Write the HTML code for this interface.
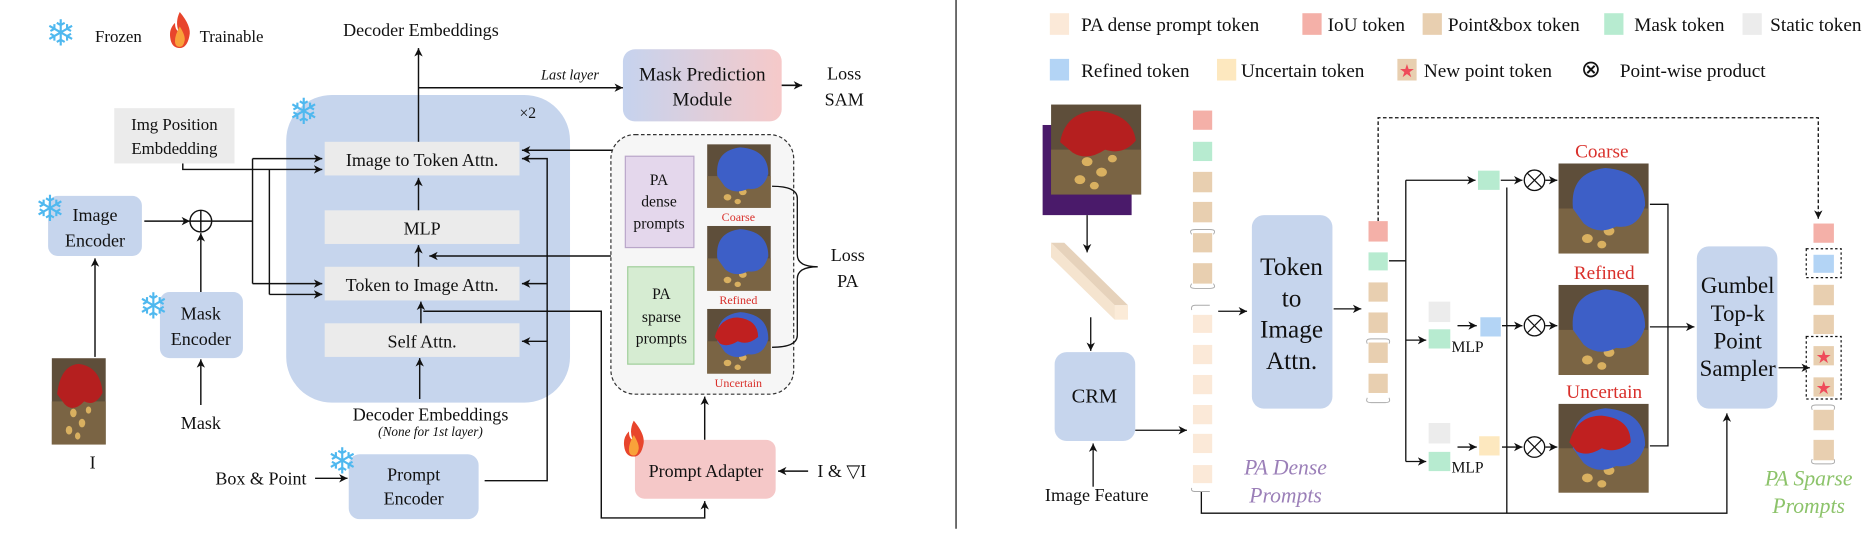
<!DOCTYPE html>
<html><head><meta charset="utf-8"><style>
html,body{margin:0;padding:0;background:#fff;}
svg{display:block;}
text{font-family:"Liberation Serif",serif;fill:#111;}
</style></head><body>
<svg width="1876" height="542" viewBox="0 0 1560 451" preserveAspectRatio="none" xmlns="http://www.w3.org/2000/svg">
<defs>
<marker id="ah" markerWidth="8" markerHeight="8" refX="7" refY="4" orient="auto" markerUnits="userSpaceOnUse">
<path d="M0,0.5 L7,4 L0,7.5 L2,4 Z" fill="#111"/></marker>
<linearGradient id="mpg" x1="0" x2="1"><stop offset="0" stop-color="#c6d3ee"/><stop offset="1" stop-color="#f6c9c9"/></linearGradient>
<symbol id="leo" viewBox="0 0 50 60" preserveAspectRatio="none">
<rect width="50" height="60" fill="#5e4e3a"/>
<rect x="0" y="30" width="50" height="30" fill="#7a6444"/>
<circle cx="20" cy="38" r="3" fill="#d9b060"/><circle cx="28" cy="45" r="3" fill="#d9b060"/><circle cx="16" cy="50" r="3" fill="#d9b060"/><circle cx="34" cy="36" r="2.5" fill="#d9b060"/><circle cx="24" cy="54" r="2.5" fill="#d9b060"/>
</symbol>
<symbol id="red" viewBox="0 0 50 60" preserveAspectRatio="none">
<use href="#leo" width="50" height="60"/>
<path d="M5,25 Q8,5 25,4 Q45,6 47,24 Q40,34 30,30 Q20,38 12,32 Z" fill="#b51f1f"/>
</symbol>
<symbol id="blue" viewBox="0 0 50 60" preserveAspectRatio="none">
<use href="#leo" width="50" height="60"/>
<path d="M8,30 Q6,6 26,3 Q48,5 48,28 Q44,44 32,42 Q22,48 14,40 Z" fill="#3d5fc7"/>
</symbol>
<symbol id="unc" viewBox="0 0 50 60" preserveAspectRatio="none">
<use href="#leo" width="50" height="60"/>
<path d="M8,30 Q6,6 26,3 Q48,5 48,28 Q44,44 32,42 Q22,48 14,40 Z" fill="#3d5fc7"/>
<path d="M6,26 Q10,8 24,8 Q40,10 40,26 Q32,34 24,30 Q16,36 10,32 Z" fill="#c02020"/>
</symbol>
<symbol id="flame" viewBox="0 0 20 30"><path d="M10,0 Q20,12 18,20 Q16,30 10,30 Q3,30 2,21 Q1,14 6,9 Q6,15 9,16 Q6,8 10,0Z" fill="#e8452c"/><path d="M10,12 Q15,20 14,24 Q13,29 10,29 Q6,29 6,24 Q6,19 10,12Z" fill="#f9a13a"/></symbol>
</defs>

<!-- ===== LEFT PANEL ===== -->
<text x="38" y="38" font-size="30" style="fill:#4fb8ef">❄</text>
<text x="79" y="35" font-size="14">Frozen</text>
<use href="#flame" x="139" y="10" width="21" height="30"/>
<text x="166" y="35" font-size="14">Trainable</text>

<text x="350" y="30" font-size="15" text-anchor="middle">Decoder Embeddings</text>
<text x="474" y="66" font-size="12" font-style="italic" text-anchor="middle">Last layer</text>
<rect x="518" y="41" width="132" height="60" rx="10" fill="url(#mpg)"/>
<text x="584" y="67" font-size="16" text-anchor="middle">Mask Prediction</text>
<text x="584" y="88" font-size="16" text-anchor="middle">Module</text>
<line x1="650" y1="71" x2="667" y2="71" stroke="#111" stroke-width="1.3" marker-end="url(#ah)"/>
<text x="702" y="66" font-size="15" text-anchor="middle">Loss</text>
<text x="702" y="88" font-size="15" text-anchor="middle">SAM</text>

<rect x="238" y="79" width="236" height="256" rx="38" fill="#c6d5ed"/>
<text x="240" y="103" font-size="30" style="fill:#4fb8ef">❄</text>
<text x="432" y="98" font-size="13">×2</text>

<rect x="95" y="90" width="100" height="46" fill="#ebebeb"/>
<text x="145" y="108" font-size="14" text-anchor="middle">Img Position</text>
<text x="145" y="128" font-size="14" text-anchor="middle">Embdedding</text>

<rect x="270" y="118" width="162" height="28" fill="#ebebeb"/>
<text x="351" y="138" font-size="15" text-anchor="middle">Image to Token Attn.</text>
<rect x="270" y="175" width="162" height="28" fill="#ebebeb"/>
<text x="351" y="195" font-size="15" text-anchor="middle">MLP</text>
<rect x="270" y="222" width="162" height="28" fill="#ebebeb"/>
<text x="351" y="242" font-size="15" text-anchor="middle">Token to Image Attn.</text>
<rect x="270" y="269" width="162" height="28" fill="#ebebeb"/>
<text x="351" y="289" font-size="15" text-anchor="middle">Self Attn.</text>

<g stroke="#111" stroke-width="1.2" fill="none">
<line x1="348" y1="118" x2="348" y2="40" marker-end="url(#ah)"/>
<polyline points="348,73 518,73" marker-end="url(#ah)"/>
<line x1="348" y1="175" x2="348" y2="148" marker-end="url(#ah)"/>
<line x1="348" y1="222" x2="348" y2="204" marker-end="url(#ah)"/>
<line x1="350" y1="269" x2="350" y2="251" marker-end="url(#ah)"/>
<line x1="349" y1="332" x2="349" y2="298" marker-end="url(#ah)"/>
<line x1="120" y1="184" x2="158" y2="184" marker-end="url(#ah)"/>
<line x1="167" y1="243" x2="167" y2="194" marker-end="url(#ah)"/>
<polyline points="176,184 210,184"/>
<line x1="210" y1="132" x2="210" y2="236"/>
<line x1="210" y1="132" x2="268" y2="132" marker-end="url(#ah)"/>
<line x1="210" y1="236" x2="268" y2="236" marker-end="url(#ah)"/>
<polyline points="152,136 152,141 268,141" marker-end="url(#ah)"/>
<line x1="224" y1="141" x2="224" y2="245"/>
<line x1="224" y1="245" x2="268" y2="245" marker-end="url(#ah)"/>
<line x1="79" y1="297" x2="79" y2="215" marker-end="url(#ah)"/>
<line x1="167" y1="337" x2="167" y2="299" marker-end="url(#ah)"/>
<polyline points="403,400 455,400 455,132 434,132" marker-end="url(#ah)"/>
<line x1="455" y1="236" x2="434" y2="236" marker-end="url(#ah)"/>
<line x1="455" y1="284" x2="434" y2="284" marker-end="url(#ah)"/>
<polyline points="548,130 548,125 434,125" marker-end="url(#ah)"/>
<polyline points="550,222 550,213 357,213" marker-end="url(#ah)"/>
<polyline points="352,259 500,259 500,431 586,431 586,417" marker-end="url(#ah)"/>
<line x1="262" y1="398" x2="289" y2="398" marker-end="url(#ah)"/>
<line x1="586" y1="366" x2="586" y2="330" marker-end="url(#ah)"/>
<line x1="672" y1="392" x2="647" y2="392" marker-end="url(#ah)"/>
</g>
<circle cx="167" cy="184" r="9" fill="#fff" stroke="#111" stroke-width="1.2"/>
<line x1="158" y1="184" x2="176" y2="184" stroke="#111" stroke-width="1.2"/>
<line x1="167" y1="175" x2="167" y2="193" stroke="#111" stroke-width="1.2"/>

<rect x="40" y="163" width="78" height="50" rx="8" fill="#c6d5ed"/>
<text x="29" y="184" font-size="30" style="fill:#4fb8ef">❄</text>
<text x="79" y="184" font-size="15" text-anchor="middle">Image</text>
<text x="79" y="205" font-size="15" text-anchor="middle">Encoder</text>
<rect x="133" y="243" width="69" height="55" rx="8" fill="#c6d5ed"/>
<text x="115" y="265" font-size="30" style="fill:#4fb8ef">❄</text>
<text x="167" y="266" font-size="15" text-anchor="middle">Mask</text>
<text x="167" y="287" font-size="15" text-anchor="middle">Encoder</text>
<use href="#red" x="43" y="298" width="45" height="72"/>
<text x="77" y="390" font-size="15" text-anchor="middle">I</text>
<text x="167" y="357" font-size="15" text-anchor="middle">Mask</text>
<text x="358" y="350" font-size="15" text-anchor="middle">Decoder Embeddings</text>
<text x="358" y="363" font-size="11" font-style="italic" text-anchor="middle">(None for 1st layer)</text>

<rect x="290" y="378" width="108" height="54" rx="9" fill="#c6d5ed"/>
<text x="272" y="394" font-size="30" style="fill:#4fb8ef">❄</text>
<text x="344" y="400" font-size="15" text-anchor="middle">Prompt</text>
<text x="344" y="420" font-size="15" text-anchor="middle">Encoder</text>
<text x="217" y="403" font-size="15" text-anchor="middle">Box &amp; Point</text>

<rect x="508" y="112" width="152" height="216" rx="20" fill="#f6f6f6" stroke="#333" stroke-width="1" stroke-dasharray="3,2"/>
<rect x="520" y="130" width="57" height="76" fill="#e4d7ec" stroke="#b9a6c9"/>
<text x="548" y="154" font-size="13" text-anchor="middle">PA</text>
<text x="548" y="172" font-size="13" text-anchor="middle">dense</text>
<text x="548" y="190" font-size="13" text-anchor="middle">prompts</text>
<rect x="522" y="222" width="55" height="81" fill="#d6ecd2" stroke="#9fcf99"/>
<text x="550" y="249" font-size="13" text-anchor="middle">PA</text>
<text x="550" y="268" font-size="13" text-anchor="middle">sparse</text>
<text x="550" y="286" font-size="13" text-anchor="middle">prompts</text>
<use href="#blue" x="588" y="120" width="53" height="53"/>
<use href="#blue" x="588" y="188" width="53" height="54"/>
<use href="#unc" x="588" y="257" width="53" height="54"/>
<text x="614" y="184" font-size="10" text-anchor="middle" style="fill:#d9302b">Coarse</text>
<text x="614" y="253" font-size="10" text-anchor="middle" style="fill:#d9302b">Refined</text>
<text x="614" y="322" font-size="10" text-anchor="middle" style="fill:#d9302b">Uncertain</text>
<path d="M642,155 Q663,155 663,165 L663,212 Q663,222 680,222 Q663,222 663,232 L663,279 Q663,289 642,289" fill="none" stroke="#111" stroke-width="1.1"/>
<text x="705" y="217" font-size="15" text-anchor="middle">Loss</text>
<text x="705" y="239" font-size="15" text-anchor="middle">PA</text>

<rect x="528" y="366" width="117" height="49" rx="8" fill="#f5c8c8"/>
<use href="#flame" x="517" y="350" width="20" height="30"/>
<text x="587" y="397" font-size="15" text-anchor="middle">Prompt Adapter</text>
<text x="700" y="397" font-size="15" text-anchor="middle">I &amp; ▽I</text>

<line x1="795" y1="0" x2="795" y2="440" stroke="#111" stroke-width="1"/>

<!-- ===== RIGHT PANEL ===== -->
<g font-size="16">
<rect x="873" y="11" width="16" height="18" fill="#fbe9d8"/><text x="899" y="26">PA dense prompt token</text>
<rect x="1083" y="11" width="16" height="18" fill="#f4b0a8"/><text x="1104" y="26">IoU token</text>
<rect x="1183" y="11" width="16" height="18" fill="#e8cfb0"/><text x="1204" y="26">Point&amp;box token</text>
<rect x="1334" y="11" width="16" height="18" fill="#b7ebd0"/><text x="1359" y="26">Mask token</text>
<rect x="1449" y="11" width="16" height="18" fill="#ececec"/><text x="1472" y="26">Static token</text>
<rect x="873" y="49" width="16" height="18" fill="#b3d4f5"/><text x="899" y="64">Refined token</text>
<rect x="1012" y="49" width="16" height="18" fill="#fde8bf"/><text x="1032" y="64">Uncertain token</text>
<rect x="1162" y="49" width="16" height="18" fill="#e8cfb0"/><text x="1170" y="64" text-anchor="middle" font-size="15" style="fill:#ef4b5a">★</text><text x="1184" y="64">New point token</text>
<text x="1323" y="64" text-anchor="middle" font-size="20">⊗</text><text x="1347" y="64">Point-wise product</text>
</g>

<rect x="867" y="104" width="74" height="75" fill="#4a1a6a"/>
<use href="#red" x="874" y="87" width="75" height="75"/>
<g stroke="#111" stroke-width="1.1" fill="none">
<line x1="904" y1="179" x2="904" y2="210" marker-end="url(#ah)"/>
<line x1="907" y1="264" x2="907" y2="292" marker-end="url(#ah)"/>
<line x1="909" y1="405" x2="909" y2="369" marker-end="url(#ah)"/>
<line x1="944" y1="358" x2="987" y2="358" marker-end="url(#ah)"/>
<line x1="1013" y1="259" x2="1037" y2="259" marker-end="url(#ah)"/>
<line x1="1109" y1="257" x2="1132" y2="257" marker-end="url(#ah)"/>
<polyline points="999,409 999,427 1436,427 1436,344" marker-end="url(#ah)"/>
<line x1="1253" y1="156" x2="1253" y2="427"/>
<polyline points="1155,217 1169,217"/>
<line x1="1169" y1="150" x2="1169" y2="384"/>
<line x1="1169" y1="150" x2="1227" y2="150" marker-end="url(#ah)"/>
<line x1="1169" y1="283" x2="1186" y2="283" marker-end="url(#ah)"/>
<line x1="1169" y1="384" x2="1186" y2="384" marker-end="url(#ah)"/>
<line x1="1212" y1="271" x2="1228" y2="271" marker-end="url(#ah)"/>
<line x1="1212" y1="372" x2="1228" y2="372" marker-end="url(#ah)"/>
<line x1="1248" y1="150" x2="1266" y2="150" marker-end="url(#ah)"/>
<line x1="1249" y1="271" x2="1266" y2="271" marker-end="url(#ah)"/>
<line x1="1249" y1="372" x2="1266" y2="372" marker-end="url(#ah)"/>
<line x1="1285" y1="150" x2="1295" y2="150" marker-end="url(#ah)"/>
<line x1="1285" y1="271" x2="1295" y2="271" marker-end="url(#ah)"/>
<line x1="1285" y1="372" x2="1295" y2="372" marker-end="url(#ah)"/>
<polyline points="1372,170 1387,170 1387,371 1372,371"/>
<line x1="1372" y1="272" x2="1409" y2="272" marker-end="url(#ah)"/>
<line x1="1479" y1="306" x2="1505" y2="306" marker-end="url(#ah)"/>
<polyline points="1146,184 1146,98 1512,98 1512,182" stroke-dasharray="3,2" marker-end="url(#ah)"/>
</g>
<g fill="#fff" stroke="#111" stroke-width="1.1">
<circle cx="1276" cy="150" r="8.5"/><circle cx="1276" cy="271" r="8.5"/><circle cx="1276" cy="372" r="8.5"/>
</g>
<g stroke="#111" stroke-width="1">
<path d="M1270,144 L1282,156 M1282,144 L1270,156"/><path d="M1270,265 L1282,277 M1282,265 L1270,277"/><path d="M1270,366 L1282,378 M1282,366 L1270,378"/>
</g>

<polygon points="874,202 885,202 938,254 927,254" fill="#e6d2bb"/>
<polygon points="874,202 927,254 927,266 874,214" fill="#f1dfc8"/>
<polygon points="927,254 938,254 938,266 927,266" fill="#fbebd8"/>
<polygon points="874,202 874,214 927,266 927,254" fill="#f5e4cf"/>

<rect x="877" y="293" width="67" height="74" rx="10" fill="#c6d5ed"/>
<text x="910" y="335" font-size="17" text-anchor="middle">CRM</text>
<text x="912" y="417" font-size="15" text-anchor="middle">Image Feature</text>

<g>
<rect x="992" y="92" width="16" height="16" fill="#f4b0a8"/>
<rect x="992" y="118" width="16" height="16" fill="#b7ebd0"/>
<rect x="992" y="143" width="16" height="17" fill="#e8cfb0"/>
<rect x="992" y="168" width="16" height="17" fill="#e8cfb0"/>
<rect x="992" y="194" width="16" height="16" fill="#e8cfb0"/>
<rect x="992" y="219" width="16" height="17" fill="#e8cfb0"/>
<rect x="992" y="262" width="16" height="15" fill="#fbe9d8"/>
<rect x="992" y="287" width="16" height="16" fill="#fbe9d8"/>
<rect x="992" y="312" width="16" height="16" fill="#fbe9d8"/>
<rect x="992" y="337" width="16" height="16" fill="#fbe9d8"/>
<rect x="992" y="361" width="16" height="16" fill="#fbe9d8"/>
<rect x="992" y="387" width="16" height="15" fill="#fbe9d8"/>
</g>
<g fill="none" stroke="#aaa" stroke-width="0.8">
<path d="M991,195 Q988,191 994,191 L1006,191 Q1012,191 1009,195 M991,236 Q988,240 994,240 L1006,240 Q1012,240 1009,236"/>
<path d="M991,258 Q990,254 994,254 L1006,254 M991,406 Q990,409 994,409 L1006,409"/>
<path d="M1137,286 Q1135,282 1140,282 L1152,282 Q1157,282 1155,286 M1137,331 Q1135,335 1140,335 L1152,335 Q1157,335 1155,331"/>
<path d="M1507,341 Q1505,337 1510,337 L1522,337 Q1527,337 1525,341 M1507,382 Q1505,386 1510,386 L1522,386 Q1527,386 1525,382"/>
</g>
<text x="1069" y="395" font-size="18" font-style="italic" text-anchor="middle" style="fill:#9b7fb8">PA Dense</text>
<text x="1069" y="418" font-size="18" font-style="italic" text-anchor="middle" style="fill:#9b7fb8">Prompts</text>

<rect x="1041" y="179" width="67" height="161" rx="10" fill="#c6d5ed"/>
<g font-size="21" text-anchor="middle"><text x="1074" y="229">Token</text><text x="1074" y="255">to</text><text x="1074" y="281">Image</text><text x="1074" y="307">Attn.</text></g>

<rect x="1138" y="184" width="16" height="17" fill="#f4b0a8"/>
<rect x="1138" y="210" width="16" height="15" fill="#b7ebd0"/>
<rect x="1138" y="235" width="16" height="16" fill="#e8cfb0"/>
<rect x="1138" y="260" width="16" height="17" fill="#e8cfb0"/>
<rect x="1138" y="285" width="16" height="17" fill="#e8cfb0"/>
<rect x="1138" y="311" width="16" height="16" fill="#e8cfb0"/>

<rect x="1229" y="142" width="18" height="16" fill="#b7ebd0"/>
<rect x="1188" y="251" width="18" height="17" fill="#ececec"/>
<rect x="1188" y="274" width="18" height="16" fill="#b7ebd0"/>
<rect x="1231" y="264" width="17" height="16" fill="#b3d4f5"/>
<text x="1207" y="293" font-size="13">MLP</text>
<rect x="1188" y="352" width="18" height="17" fill="#ececec"/>
<rect x="1188" y="376" width="18" height="16" fill="#b7ebd0"/>
<rect x="1230" y="363" width="17" height="16" fill="#fde8bf"/>
<text x="1207" y="393" font-size="13">MLP</text>

<use href="#blue" x="1296" y="136" width="75" height="75"/>
<use href="#blue" x="1296" y="237" width="75" height="75"/>
<use href="#unc" x="1296" y="336" width="75" height="74"/>
<g font-size="16" text-anchor="middle">
<text x="1332" y="131" style="fill:#d9302b">Coarse</text>
<text x="1334" y="232" style="fill:#d9302b">Refined</text>
<text x="1334" y="331" style="fill:#d9302b">Uncertain</text>
</g>

<rect x="1411" y="205" width="67" height="135" rx="10" fill="#c6d5ed"/>
<g font-size="19" text-anchor="middle"><text x="1445" y="244">Gumbel</text><text x="1445" y="267">Top-k</text><text x="1445" y="290">Point</text><text x="1445" y="313">Sampler</text></g>

<rect x="1508" y="186" width="17" height="16" fill="#f4b0a8"/>
<rect x="1502" y="207" width="29" height="24" fill="none" stroke="#111" stroke-dasharray="2,2"/>
<rect x="1508" y="212" width="17" height="15" fill="#b3d4f5"/>
<rect x="1508" y="237" width="17" height="17" fill="#e8cfb0"/>
<rect x="1508" y="262" width="17" height="16" fill="#e8cfb0"/>
<rect x="1502" y="280" width="29" height="52" fill="none" stroke="#111" stroke-dasharray="2,2"/>
<rect x="1508" y="288" width="17" height="16" fill="#e8cfb0"/>
<rect x="1508" y="314" width="17" height="16" fill="#e8cfb0"/>
<text x="1516.5" y="302" font-size="15" text-anchor="middle" style="fill:#ef4b5a">★</text>
<text x="1516.5" y="328" font-size="15" text-anchor="middle" style="fill:#ef4b5a">★</text>
<rect x="1508" y="341" width="17" height="17" fill="#e8cfb0"/>
<rect x="1508" y="366" width="17" height="17" fill="#e8cfb0"/>
<text x="1504" y="404" font-size="18" font-style="italic" text-anchor="middle" style="fill:#8cc36a">PA Sparse</text>
<text x="1504" y="427" font-size="18" font-style="italic" text-anchor="middle" style="fill:#8cc36a">Prompts</text>
</svg>
</body></html>
